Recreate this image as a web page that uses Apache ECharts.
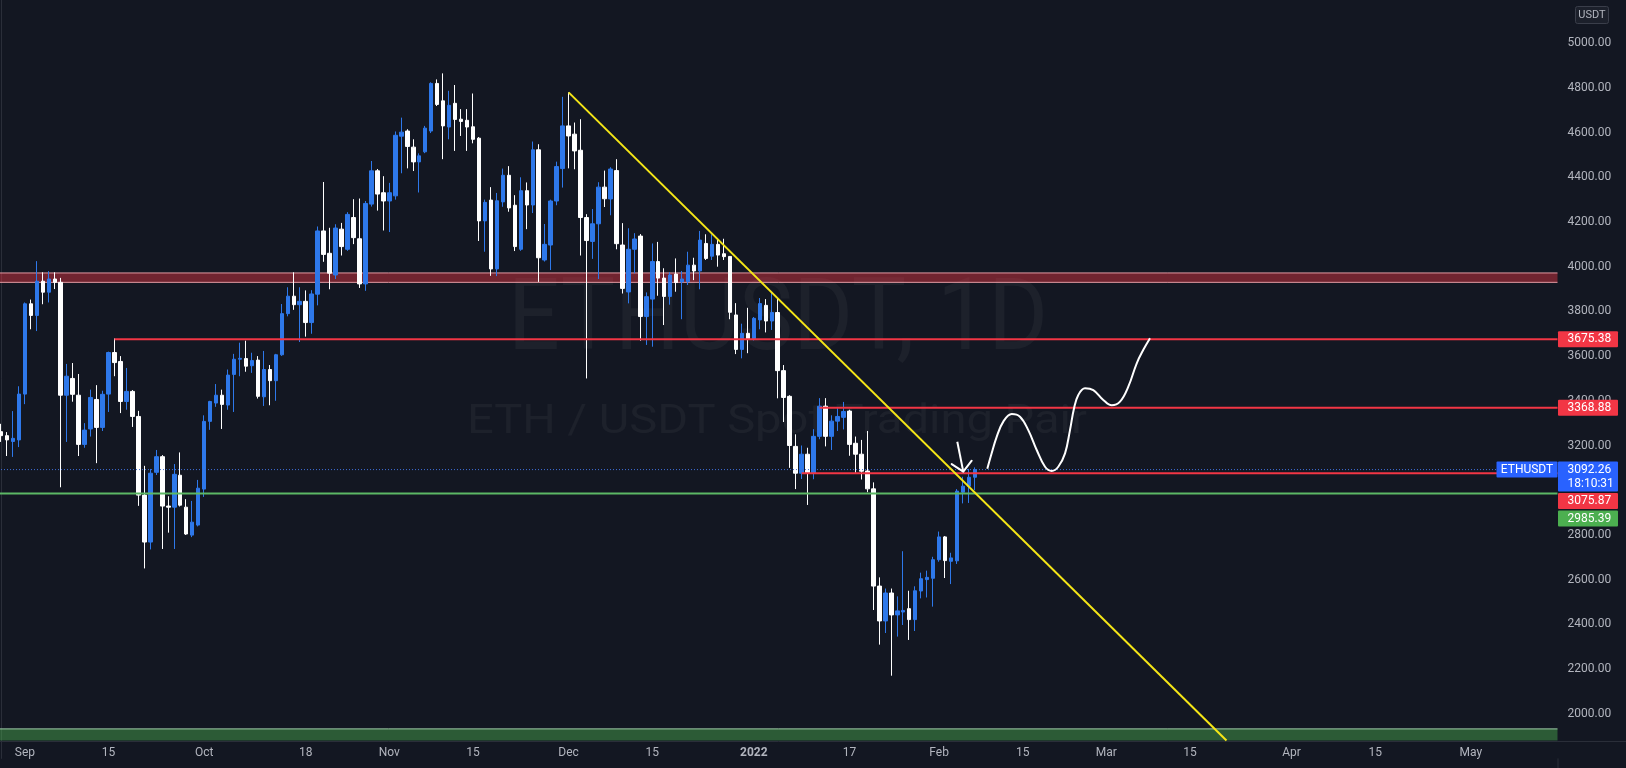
<!DOCTYPE html>
<html>
<head>
<meta charset="utf-8">
<title>ETHUSDT 1D</title>
<script src="https://cdn.jsdelivr.net/npm/echarts@6/dist/echarts.min.js"></script>
<style>
html,body{margin:0;padding:0;background:#131722;overflow:hidden;}
#chart{width:1626px;height:768px;}
</style>
</head>
<body>
<div id="chart"></div>
<script>
// ================= DATA =================
const firstDate = '2021-08-28';
const lastDate  = '2022-05-15';

const openPrices = [
  3262,3244,3218,3225,
  3430,3834,3782,3935,3886,3945,3930,3425,3500,3425,3205,3274,3406,3281,3430,3616,3576,3397,3442,3330,2978,2768,3080,3150,2929,2924,3067,2924,2799,2844,
  3005,3308,3390,3425,3381,3518,3586,3589,3557,3582,3418,3540,3490,3606,3790,3868,3830,3845,3750,3877,4160,4060,3963,4168,4078,4220,4125,3923,4280,4429,4331,
  4294,4317,4584,4607,4535,4469,4514,4607,4820,4742,4625,4731,4660,4655,4626,4575,4205,4298,3990,4290,4409,4275,4078,4340,4276,4523,4030,4097,4294,4439,
  4630,4593,4521,4220,4113,4192,4356,4303,4430,4097,3887,4078,4137,3777,3855,4023,3949,3867,3967,3932,3933,4007,3981,4104,4047,4100,4058,4046,3784,3630,3702,
  3675,3762,3827,3757,3795,3535,3420,3196,3076,3161,3076,3241,3376,3241,3309,3326,3354,3210,3161,3086,3006,2571,2415,2540,2442,2455,2470,2421,2549,2600,2606,
  2689,2791,2682,2684,2991,3018,3058
];
const highPrices = [
  3297,3260,3354,3465,
  3840,3853,4025,3975,3980,3975,3950,3565,3569,3520,3300,3450,3470,3445,3620,3679,3600,3547,3448,3355,3109,3095,3180,3157,2973,3117,3169,2960,2952,3046,
  3335,3400,3475,3450,3540,3610,3660,3669,3615,3600,3623,3560,3610,3833,3908,3975,3908,3894,3895,4180,4379,4174,4190,4196,4244,4302,4305,4294,4473,4437,4405,
  4375,4605,4667,4615,4570,4507,4630,4825,4838,4865,4787,4813,4705,4705,4775,4580,4300,4356,4330,4439,4450,4320,4400,4377,4560,4548,4191,4300,4470,4760,
  4780,4645,4660,4235,4258,4378,4430,4445,4481,4195,4172,4150,4146,3885,4104,4111,3993,3975,4037,3981,4067,4040,4160,4145,4145,4125,4125,4046,3837,3745,3816,
  3775,3860,3855,3885,3860,3560,3425,3250,3200,3190,3273,3412,3412,3335,3367,3395,3360,3240,3225,3265,3035,2610,2560,2560,2525,2727,2550,2570,2631,2640,2702,
  2815,2795,2720,3005,3060,3095,3102
];
const lowPrices = [
  3216,3153,3149,3193,
  3385,3720,3712,3832,3840,3900,3013,3216,3396,3153,3190,3240,3121,3265,3350,3510,3345,3360,3283,2930,2650,2735,3068,2737,2810,2737,2927,2800,2790,2838,
  2970,3270,3373,3274,3360,3350,3510,3530,3525,3410,3377,3380,3400,3601,3778,3807,3663,3687,3700,3827,4022,3899,3945,4050,4071,4101,3905,3892,4269,4251,4162,
  4155,4300,4418,4440,4428,4332,4508,4598,4719,4481,4570,4518,4585,4518,4552,4115,4067,3959,3958,4268,4246,4070,4071,4168,4240,3932,4023,3985,4275,4354,
  4440,4436,4050,3500,4035,3945,4267,4230,4078,3880,3836,3970,3669,3650,3642,3870,3739,3830,3888,3765,3918,3940,3899,4030,4030,4000,4030,3765,3609,3590,3613,
  3670,3720,3706,3717,3411,3305,3100,3005,3050,2934,3049,3228,3196,3180,3265,3272,3154,3078,3048,2991,2464,2309,2361,2170,2345,2397,2330,2370,2516,2520,2479,
  2680,2607,2580,2670,2941,2943,3000
];
const closePrices = [
  3244,3225,3232,3430,
  3834,3782,3935,3886,3945,3930,3425,3510,3429,3205,3269,3415,3281,3429,3616,3571,3397,3442,3330,2978,2768,3076,3150,2929,2924,3071,2933,2804,2857,3009,
  3308,3397,3425,3384,3515,3586,3590,3555,3580,3420,3540,3490,3606,3790,3868,3830,3845,3750,3878,4160,4055,3971,4173,4090,4234,4130,3923,4283,4429,4325,4294,
  4331,4588,4602,4538,4469,4496,4620,4820,4726,4630,4722,4659,4650,4625,4570,4205,4288,3990,4295,4409,4263,4090,4340,4276,4523,4040,4100,4294,4448,4630,
  4585,4518,4220,4117,4192,4356,4304,4437,4103,3903,4078,4124,3777,3866,4023,3949,3867,3963,3929,3945,4007,3981,4119,4037,4100,4052,4045,3796,3630,3702,3675,
  3769,3835,3757,3795,3535,3415,3200,3076,3161,3076,3241,3376,3241,3309,3330,3352,3205,3161,3085,3006,2571,2415,2540,2442,2460,2462,2421,2550,2604,2610,2689,
  2791,2685,2697,2996,3018,3058,3092
];

const xTickDates  = ['2021-09-01','2021-09-15','2021-10-01','2021-10-18','2021-11-01','2021-11-15','2021-12-01','2021-12-15','2022-01-01','2022-01-17','2022-02-01','2022-02-15','2022-03-01','2022-03-15','2022-04-01','2022-04-15','2022-05-01'];
const xTickLabels = ['Sep','15','Oct','18','Nov','15','Dec','15','2022','17','Feb','15','Mar','15','Apr','15','May'];

const yTickMin = 1800, yTickMax = 5200, yTickStep = 200;
const yLabelRange = [2000, 5000];
const yHiddenLabels = [3000];

// horizontal levels
const levelValues     = [3675.38, 3368.88, 3075.87, 2985.39];
const levelStartDates = ['2021-09-16', '2022-01-12', '2022-01-09', null];
const levelKinds      = ['resistance', 'resistance', 'resistance', 'support'];

const currentPrice = 3092.26;
const countdownText = '18:10:31';
const symbolText = 'ETHUSDT';
const currencyText = 'USDT';

const redZone   = [3930, 3972];
const greenZone = [1880, 1932];

// drawings: [days since firstDate, price]
const trendLine = [[95, 4780], [205.1, 1880]];
const sketchCurve = [
  [165.07,3096],[165.80,3165],[166.64,3239],[167.75,3307],[169.16,3341],[170.54,3329],
  [171.93,3269],[173.34,3180],[174.73,3105],[175.85,3086],[176.95,3105],[178.08,3165],
  [178.91,3269],[179.58,3366],[180.30,3426],[181.42,3456],[182.81,3448],[184.48,3404],
  [185.89,3380],[187.28,3396],[188.67,3463],[190.08,3568],[191.16,3627],[192.30,3680]
];
const arrowShaft = [[160.05, 3217], [161.05, 3083]];
const arrowHead  = [[159.11, 3117], [161.05, 3083], [162.46, 3132]];

const watermarkTitle = 'ETHUSDT, 1D';
const watermarkSub   = 'ETH / USDT Spot Trading Pair';

// ================= BUILD =================
const categories = [];
(function () {
  let t = Date.parse(firstDate + 'T00:00:00Z');
  const end = Date.parse(lastDate + 'T00:00:00Z');
  while (t <= end) { categories.push(new Date(t).toISOString().slice(0, 10)); t += 86400000; }
})();
const xMin = -0.5, xMax = categories.length - 0.5;
const tickMap = {};
xTickDates.forEach((d, i) => { tickMap[d] = xTickLabels[i]; });

const FONT = 'Roboto, "Noto Sans", sans-serif';
const BG = '#131722';
const TEXT = '#b2b5be';
const LINE = '#2a2e39';
const UP = '#2e78ea';
const DOWN = '#ffffff';
const RED = '#f23645';
const GREEN = '#4caf50';
const BLUE = '#2962ff';

const GRID = { left: -2, top: -1.5, width: 1559.5, height: 759.9 };
const X_AXIS_OFFSET = -17.4;

const candleData = openPrices.map((o, i) => [o, closePrices[i], lowPrices[i], highPrices[i]]);

function levelSeries(value, fromIdx, color, width, type, z) {
  return {
    type: 'line', xAxisIndex: 1, yAxisIndex: 0,
    data: [[fromIdx, value], [xMax, value]],
    symbol: 'none', silent: true, animation: false, z: z,
    lineStyle: { color: color, width: width, type: type }
  };
}

const series = [];
// zones (fill)
series.push({
  type: 'line', xAxisIndex: 1, yAxisIndex: 0, data: [], silent: true, z: 1,
  markArea: {
    silent: true,
    data: [
      [{ yAxis: redZone[0], itemStyle: { color: 'rgba(242,54,69,0.42)', borderWidth: 0 } }, { yAxis: redZone[1] }],
      [{ yAxis: greenZone[0], itemStyle: { color: 'rgba(76,175,80,0.45)', borderWidth: 0 } }, { yAxis: greenZone[1] }]
    ]
  }
});
// zone edges
series.push(levelSeries(redZone[0], xMin, '#e39aa2', 1, 'solid', 2));
series.push(levelSeries(redZone[1], xMin, '#e39aa2', 1, 'solid', 2));
series.push(levelSeries(greenZone[1], xMin, '#9fd0a8', 1, 'solid', 2));
// candles
series.push({
  type: 'candlestick', xAxisIndex: 0, yAxisIndex: 0, data: candleData, barWidth: 4, z: 3,
  itemStyle: { color: UP, color0: DOWN, borderColor: UP, borderColor0: DOWN, borderWidth: 1 }
});
// levels
levelValues.forEach((v, i) => {
  const from = levelStartDates[i] ? categories.indexOf(levelStartDates[i]) : xMin;
  const color = levelKinds[i] === 'support' ? '#5cb865' : RED;
  series.push(levelSeries(v, from, color, 2, 'solid', 4));
});
// current price dotted line
series.push(levelSeries(currentPrice, xMin, '#3f6fd8', 1, [1, 2], 4));
// trend line
series.push({
  type: 'line', xAxisIndex: 1, yAxisIndex: 0, data: trendLine, symbol: 'none', silent: true, z: 6,
  lineStyle: { color: '#f5e617', width: 2 }
});
// sketch
series.push({
  type: 'line', xAxisIndex: 1, yAxisIndex: 0, data: sketchCurve, symbol: 'none', silent: true, z: 6, smooth: 0.4,
  lineStyle: { color: '#ffffff', width: 2 }
});
series.push({
  type: 'line', xAxisIndex: 1, yAxisIndex: 0, data: arrowShaft, symbol: 'none', silent: true, z: 6,
  lineStyle: { color: '#ffffff', width: 2 }
});
series.push({
  type: 'line', xAxisIndex: 1, yAxisIndex: 0, data: arrowHead, symbol: 'none', silent: true, z: 6,
  lineStyle: { color: '#ffffff', width: 2, join: 'round', cap: 'round' }
});

const option = {
  animation: false,
  backgroundColor: BG,
  textStyle: { fontFamily: FONT },
  grid: Object.assign({ containLabel: false, outerBoundsMode: 'none' }, GRID),
  xAxis: [
    {
      type: 'category', data: categories, boundaryGap: true, position: 'bottom', offset: X_AXIS_OFFSET,
      axisLine: { show: true, lineStyle: { color: LINE, width: 1 } },
      axisTick: { show: false },
      splitLine: { show: false },
      axisLabel: {
        interval: (idx, val) => tickMap[val] !== undefined,
        formatter: (val) => tickMap[val] === '2022' ? '{b|2022}' : (tickMap[val] || ''),
        color: TEXT, fontSize: 12, fontFamily: FONT, margin: 6,
        rich: { b: { fontWeight: 'bold', color: TEXT, fontSize: 12, fontFamily: FONT } }
      }
    },
    { type: 'value', min: xMin, max: xMax, show: false }
  ],
  yAxis: [{
    type: 'value', position: 'right', min: yTickMin, max: yTickMax, interval: yTickStep,
    axisLine: { show: true, lineStyle: { color: LINE, width: 1 } },
    axisTick: { show: false },
    splitLine: { show: false },
    axisLabel: {
      color: TEXT, fontSize: 12, fontFamily: FONT, margin: 10, align: 'left',
      showMinLabel: true, showMaxLabel: true,
      formatter: (v) => (v < yLabelRange[0] || v > yLabelRange[1] || yHiddenLabels.indexOf(v) >= 0) ? '' : v.toFixed(2)
    }
  }],
  series: series
};

const chart = echarts.init(document.getElementById('chart'), null, { renderer: 'canvas', width: 1626, height: 768 });
chart.setOption(option);

// ================= OVERLAYS (positions from the axes) =================
function measure(text, size) {
  const c = document.createElement('canvas').getContext('2d');
  c.font = size + 'px ' + FONT;
  return c.measureText(text).width;
}
const yPix = (v) => chart.convertToPixel({ yAxisIndex: 0 }, v);
const xRight = chart.convertToPixel({ xAxisIndex: 1 }, xMax);
const axisY = GRID.top + GRID.height + X_AXIS_OFFSET;

const graphics = [];
// watermark
const wm1Size = 101, wm2Size = 41;
graphics.push({
  type: 'text', x: 778, y: 324, z: 0, silent: true,
  scaleX: 540 / measure(watermarkTitle, wm1Size),
  style: { text: watermarkTitle, font: wm1Size + 'px ' + FONT, fill: 'rgba(255,255,255,0.045)', align: 'center', verticalAlign: 'middle' }
});
graphics.push({
  type: 'text', x: 777, y: 423, z: 0, silent: true,
  scaleX: 620 / measure(watermarkSub, wm2Size),
  style: { text: watermarkSub, font: wm2Size + 'px ' + FONT, fill: 'rgba(255,255,255,0.045)', align: 'center', verticalAlign: 'middle' }
});
// frame extensions
graphics.push({ type: 'line', z: 50, silent: true, shape: { x1: xRight, y1: axisY + 0.5, x2: 1626, y2: axisY + 0.5 }, style: { stroke: LINE, lineWidth: 1 } });
graphics.push({ type: 'line', z: 50, silent: true, shape: { x1: xRight + 0.5, y1: GRID.top + GRID.height, x2: xRight + 0.5, y2: 768 }, style: { stroke: LINE, lineWidth: 1 } });
// currency box
graphics.push({ type: 'rect', z: 50, silent: true, shape: { x: 1575.5, y: 6.5, width: 33, height: 17, r: 2 }, style: { fill: '#1c202b', stroke: '#3a3e4a', lineWidth: 1 } });
graphics.push({ type: 'text', z: 51, silent: true, x: 1592, y: 15, style: { text: currencyText, font: '11px ' + FONT, fill: TEXT, align: 'center', verticalAlign: 'middle' } });

// price tags (stacked to avoid overlap)
const tags = levelValues.map((v, i) => ({
  value: v, lines: [v.toFixed(2)], color: levelKinds[i] === 'support' ? GREEN : RED, h: 16
}));
tags.push({ value: currentPrice, lines: [currentPrice.toFixed(2), countdownText], color: BLUE, h: 30, current: true });
tags.forEach(t => { t.y = yPix(t.value); t.top = t.y - 8; });
tags.sort((a, b) => a.y - b.y);
let prevBottom = -Infinity;
tags.forEach(t => {
  if (t.top < prevBottom + 1.5) t.top = prevBottom + 1.5;
  prevBottom = t.top + t.h;
  graphics.push({ type: 'rect', z: 60, silent: true, shape: { x: xRight + 0.5, y: t.top, width: 60, height: t.h, r: 1 }, style: { fill: t.color } });
  t.lines.forEach((ln, k) => {
    graphics.push({ type: 'text', z: 61, silent: true, x: xRight + 10, y: t.top + 8 + k * 14,
      style: { text: ln, font: '12px ' + FONT, fill: '#ffffff', align: 'left', verticalAlign: 'middle' } });
  });
  if (t.current) {
    graphics.push({ type: 'rect', z: 60, silent: true, shape: { x: xRight - 61, y: t.top, width: 61, height: 16, r: 1 }, style: { fill: t.color } });
    graphics.push({ type: 'text', z: 61, silent: true, x: xRight - 30.5, y: t.top + 8,
      style: { text: symbolText, font: '12px ' + FONT, fill: '#ffffff', align: 'center', verticalAlign: 'middle' } });
  }
});

chart.setOption({ graphic: { elements: graphics } });
</script>
</body>
</html>
